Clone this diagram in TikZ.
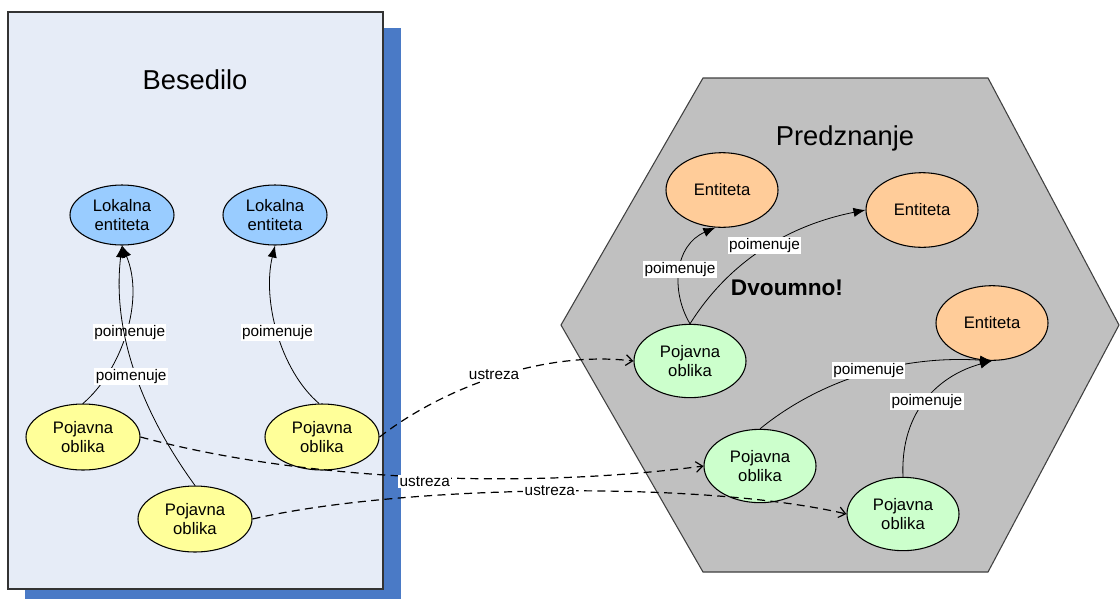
\documentclass[tikz,border=0pt]{standalone}
\usepackage{fontspec}
\setmainfont{Liberation Sans}
\usetikzlibrary{shapes.geometric,arrows.meta}
\definecolor{boxfill}{HTML}{E6ECF7}
\definecolor{shadowblue}{HTML}{4A7AC6}
\definecolor{bluefill}{HTML}{99CCFF}
\definecolor{yellowfill}{HTML}{FFFF99}
\definecolor{orangefill}{HTML}{FFCC99}
\definecolor{greenfill}{HTML}{CCFFCC}
\definecolor{hexfill}{HTML}{C0C0C0}
\begin{document}
\begin{tikzpicture}[x=0.75pt,y=-0.75pt,
  ell/.style={ellipse,draw=black,line width=0.8pt,inner sep=0pt,align=center,font=\fontsize{12.5}{14.8}\selectfont},
  lok/.style={ell,fill=bluefill,minimum width=78pt,minimum height=45pt},
  poj/.style={ell,fill=yellowfill,minimum width=85.5pt,minimum height=49.5pt},
  ent/.style={ell,fill=orangefill,minimum width=84pt,minimum height=56pt},
  pog/.style={ell,fill=greenfill,minimum width=84pt,minimum height=55pt},
  lab/.style={fill=white,inner sep=1pt,font=\fontsize{11.5}{13}\selectfont},
  title/.style={font=\fontsize{20.5}{24}\selectfont},
  names/.style={draw=black,line width=0.6pt,-{Latex[length=9pt,width=7pt]}},
  corr/.style={draw=black,line width=0.9pt,dash pattern=on 6pt off 4pt,-{Straight Barb[length=5pt,width=8pt]}},
]
\useasboundingbox (0,0) rectangle (1120,601);
% left box with shadow
\fill[shadowblue] (25,28) rectangle (401,599);
\draw[fill=boxfill,draw=black!80,line width=1pt] (8,12) rectangle (383,589);
\node[title] (besedilo) at (195,80) {Besedilo};
% hexagon
\draw[fill=hexfill,draw=black!75,line width=0.8pt] (703,78) -- (988,78) -- (1119,325) -- (988,572) -- (703,572) -- (561,325) -- cycle;
\node[title] (predznanje) at (845,138) {Predznanje};
\node[font=\fontsize{17}{20}\selectfont\bfseries] (dvoumno) at (787,288) {Dvoumno!};
% left nodes
\node[lok] (b1) at (122,215) {Lokalna\\entiteta};
\node[lok] (b2) at (275,215) {Lokalna\\entiteta};
\node[poj] (y1) at (83,437) {Pojavna\\oblika};
\node[poj] (y2) at (322,437) {Pojavna\\oblika};
\node[poj] (y3) at (195,519) {Pojavna\\oblika};
% right nodes
\node[ent] (o1) at (722,190) {Entiteta};
\node[ent] (o2) at (922,210) {Entiteta};
\node[ent] (o3) at (992,323) {Entiteta};
\node[pog] (g1) at (690,361) {Pojavna\\oblika};
\node[pog] (g2) at (760,466) {Pojavna\\oblika};
\node[pog] (g3) at (903,514) {Pojavna\\oblika};
% poimenuje (left)
\draw[names] (y1.north) .. controls (122,370) and (145,300) .. node[lab,pos=0.5,xshift=3pt]{poimenuje} (b1.south);
\draw[names] (y3.north) .. controls (140,410) and (112,330) .. node[lab,pos=0.47,xshift=-4pt]{poimenuje} (b1.south);
\draw[names] (y2.95) .. controls (280,370) and (262,300) .. node[lab,pos=0.5]{poimenuje} (b2.south);
% poimenuje (right)
\draw[names] (g1.north) .. controls (670,290) and (675,245) .. node[lab,pos=0.5]{poimenuje} (o1.260);
\draw[names] (g1.north) .. controls (730,260) and (790,225) .. node[lab,pos=0.5,yshift=2pt]{poimenuje} (o2.west);
\draw[names] (g2.north) .. controls (820,380) and (900,355) .. node[lab,pos=0.52,yshift=2pt]{poimenuje} (o3.south);
\draw[names] (g3.north) .. controls (900,410) and (940,375) .. node[lab,pos=0.5,yshift=-2pt]{poimenuje} (o3.south);
% ustreza
\draw[corr] (y2.east) .. controls (440,390) and (540,350) .. node[lab,pos=0.5,yshift=2pt]{ustreza} (g1.west);
\draw[corr] (y1.east) .. controls (300,480) and (520,490) .. node[lab,pos=0.52,yshift=-3pt]{ustreza} (g2.west);
\draw[corr] (y3.east) .. controls (400,485) and (700,480) .. node[lab,pos=0.5]{ustreza} (g3.west);
\end{tikzpicture}
\end{document}
